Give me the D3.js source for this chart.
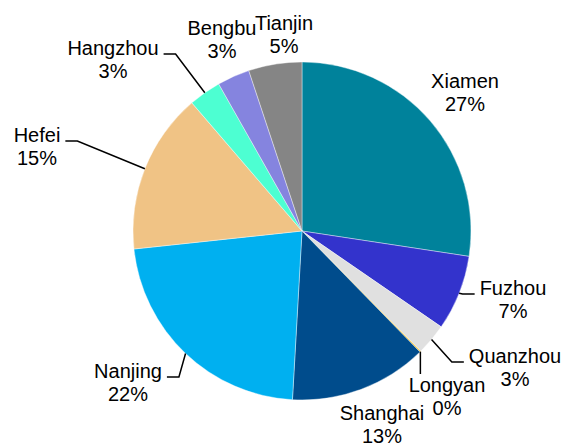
<!DOCTYPE html>
<html lang="en">
  <head>
    <meta charset="UTF-8" />
    <title>City Share Pie</title>
    <script src="https://d3js.org/d3.v7.min.js"></script>
    <style>
      body {
        margin: 0;
        background: #fff;
      }
      .label text {
        font-family: 'Liberation Sans', Arial, sans-serif;
        font-size: 20px;
        fill: #000;
      }
      .leader {
        fill: none;
        stroke: #000;
        stroke-width: 1.5px;
      }
    </style>
  </head>
  <body>
    <div id="chart"></div>
    <script>
      // data (clockwise from 12 o'clock)
      const cities = ['Xiamen', 'Fuzhou', 'Quanzhou', 'Longyan', 'Shanghai', 'Nanjing', 'Hefei', 'Hangzhou', 'Bengbu', 'Tianjin'];
      const shares = [27.4, 7.2, 3.0, 0.1, 13.2, 22.4, 15.4, 3.1, 3.1, 5.1];
      const colors = ['#00829b', '#3333cc', '#e0e0e0', '#ffc000', '#004c8c', '#00b0f0', '#f0c385', '#4dffd2', '#8584df', '#858585'];

      // label placement: [x offset of text centre, y offset of first baseline] from pie centre
      const labelOffsets = [[163, -143], [211, 64], [213, 132], [145, 161], [80, 189], [-174, 147], [-265, -89], [-189, -176], [-80, -196], [-18, -201]];
      const hasLeader = [false, true, true, true, false, true, true, true, false, false];

      const width = 568;
      const height = 446;
      const cx = 302;
      const cy = 231;
      const radius = 169;
      const lineGap = 23;

      const svg = d3
        .select('#chart')
        .append('svg')
        .attr('width', width)
        .attr('height', height);

      const g = svg.append('g').attr('transform', `translate(${cx},${cy})`);

      const total = d3.sum(shares);
      const pie = d3.pie().sort(null).value((d) => d.value);
      const arc = d3.arc().innerRadius(0).outerRadius(radius);

      const slices = pie(cities.map((c, i) => ({ name: c, value: shares[i], i })));

      g.selectAll('path.slice')
        .data(slices)
        .enter()
        .append('path')
        .attr('class', 'slice')
        .attr('d', arc)
        .attr('fill', (d) => colors[d.data.i])
        .attr('stroke', '#fff')
        .attr('stroke-width', 0.4);

      const labels = g
        .selectAll('g.label')
        .data(slices)
        .enter()
        .append('g')
        .attr('class', 'label');

      labels
        .append('text')
        .attr('class', 'name')
        .attr('text-anchor', 'middle')
        .attr('x', (d) => labelOffsets[d.data.i][0])
        .attr('y', (d) => labelOffsets[d.data.i][1])
        .text((d) => d.data.name);

      labels
        .append('text')
        .attr('text-anchor', 'middle')
        .attr('x', (d) => labelOffsets[d.data.i][0])
        .attr('y', (d) => labelOffsets[d.data.i][1] + lineGap)
        .text((d) => Math.round((d.data.value / total) * 100) + '%');

      // leader lines: from the arc at mid angle, elbow, then short horizontal into the label
      labels.each(function (d) {
        if (!hasLeader[d.data.i]) return;
        const mid = (d.startAngle + d.endAngle) / 2;
        const sx = radius * Math.sin(mid);
        const sy = -radius * Math.cos(mid);
        const [lx, ly] = labelOffsets[d.data.i];
        const w = d3.select(this).select('text.name').node().getComputedTextLength();
        const left = lx - w / 2;
        const right = lx + w / 2;
        let pts;
        if (sx > left && sx < right) {
          // label sits right below the point
          pts = [[sx, sy], [sx, ly - 18]];
        } else if (sx <= left) {
          const ex = left - 5;
          pts = [[sx, sy], [ex - 12, ly - 1], [ex, ly - 1]];
        } else {
          const ex = right + 5;
          pts = [[sx, sy], [ex + 12, ly - 1], [ex, ly - 1]];
        }
        d3.select(this)
          .append('path')
          .attr('class', 'leader')
          .attr('d', d3.line()(pts));
      });
    </script>
  </body>
</html>
